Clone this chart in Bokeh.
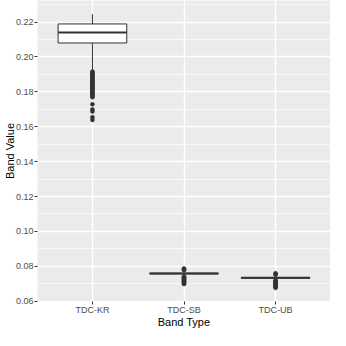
import numpy as np
from bokeh.plotting import figure
from bokeh.models import (Range1d, FactorRange, SingleIntervalTicker, PrintfTickFormatter,
                          ColumnDataSource)
from bokeh.transform import dodge
from bokeh.embed import file_html
from bokeh.resources import INLINE

# ---- data ----
categories = ["TDC-KR", "TDC-SB", "TDC-UB"]
q1 = [0.2080, 0.0757, 0.0732]
medians = [0.2140, 0.0759, 0.0734]
q3 = [0.2189, 0.0761, 0.0736]
whisker_low = [0.1917, 0.0754, 0.0729]
whisker_high = [0.2245, 0.0765, 0.0740]

outliers_kr = [0.1916, 0.1910, 0.1905, 0.1899, 0.1893, 0.1888, 0.1882, 0.1876,
               0.1871, 0.1865, 0.1860, 0.1854, 0.1848, 0.1843, 0.1837, 0.1831,
               0.1826, 0.1820, 0.1815, 0.1809, 0.1803, 0.1798, 0.1792, 0.1786,
               0.1781, 0.1775, 0.1769, 0.1729, 0.1699, 0.1688, 0.1655, 0.1639]
outliers_sb = [0.0788, 0.0783, 0.0778, 0.0742, 0.0738, 0.0734, 0.0730, 0.0726,
               0.0722, 0.0718, 0.0714, 0.0710, 0.0706, 0.0702, 0.0699]
outliers_ub = [0.0760, 0.0756, 0.0752, 0.0720, 0.0716, 0.0712, 0.0708, 0.0704,
               0.0700, 0.0696, 0.0692, 0.0688, 0.0684, 0.0680, 0.0677]

y_ticks_interval = 0.02
x_title = "Band Type"
y_title = "Band Value"

# ---- derived ----
all_outliers = [outliers_kr, outliers_sb, outliers_ub]
all_vals = np.concatenate([np.array(o) for o in all_outliers] +
                          [np.array(whisker_high), np.array(whisker_low)])
dmin, dmax = all_vals.min(), all_vals.max()
rng = dmax - dmin
y_lo, y_hi = dmin - 0.05 * rng, dmax + 0.05 * rng

FONT = "Liberation Sans"
DARK = "#333333"

p = figure(width=330, height=330, output_backend="svg", toolbar_location=None,
           x_range=FactorRange(factors=categories, range_padding=0.1,
                               range_padding_units="absolute"),
           y_range=Range1d(y_lo, y_hi), min_border=0)
p.background_fill_color = "#EBEBEB"
p.border_fill_color = "white"
p.outline_line_color = None

# grid
p.xgrid.grid_line_color = "white"
p.xgrid.grid_line_width = 1.4
p.ygrid.grid_line_color = "white"
p.ygrid.grid_line_width = 1.4
p.ygrid.minor_grid_line_color = "white"
p.ygrid.minor_grid_line_width = 0.7

# axes
p.yaxis.ticker = SingleIntervalTicker(interval=y_ticks_interval, num_minor_ticks=2)
p.yaxis.formatter = PrintfTickFormatter(format="%.2f")
for ax in (p.xaxis[0], p.yaxis[0]):
    ax.axis_line_color = None
    ax.major_tick_line_color = DARK
    ax.major_tick_out = 3
    ax.major_tick_in = 0
    ax.minor_tick_line_color = None
    ax.major_label_text_color = "#4D4D4D"
    ax.major_label_text_font = FONT
    ax.major_label_text_font_size = "9px"
    ax.axis_label_text_font = FONT
    ax.axis_label_text_font_size = "11px"
    ax.axis_label_text_font_style = "normal"
    ax.axis_label_text_color = "black"
    ax.axis_label_text_line_height = 0.9
p.xaxis.major_label_orientation = "horizontal"
p.xaxis.axis_label = x_title
p.yaxis.axis_label = y_title
p.xaxis.major_label_standoff = 0
p.xaxis.axis_label_standoff = -2
p.yaxis.major_label_standoff = 0
p.yaxis.axis_label_standoff = -3

# outliers
for c, outs in zip(categories, all_outliers):
    p.scatter(x=[c] * len(outs), y=outs, size=4, marker="circle",
              fill_color=DARK, line_color=DARK, line_width=0.5)

src = ColumnDataSource(dict(cat=categories, q1=q1, q3=q3, med=medians,
                            lo=whisker_low, hi=whisker_high))
# whiskers
p.segment(x0="cat", y0="q3", x1="cat", y1="hi", source=src, line_color=DARK, line_width=1)
p.segment(x0="cat", y0="q1", x1="cat", y1="lo", source=src, line_color=DARK, line_width=1)

# boxes
box_w = 0.75
p.vbar(x="cat", width=box_w, top="q3", bottom="q1", source=src, fill_color="white",
       line_color=DARK, line_width=1)
p.segment(x0=dodge("cat", -box_w / 2, range=p.x_range), y0="med",
          x1=dodge("cat", box_w / 2, range=p.x_range), y1="med", source=src,
          line_color=DARK, line_width=2)

open("out.html", "w").write(file_html(p, INLINE))
